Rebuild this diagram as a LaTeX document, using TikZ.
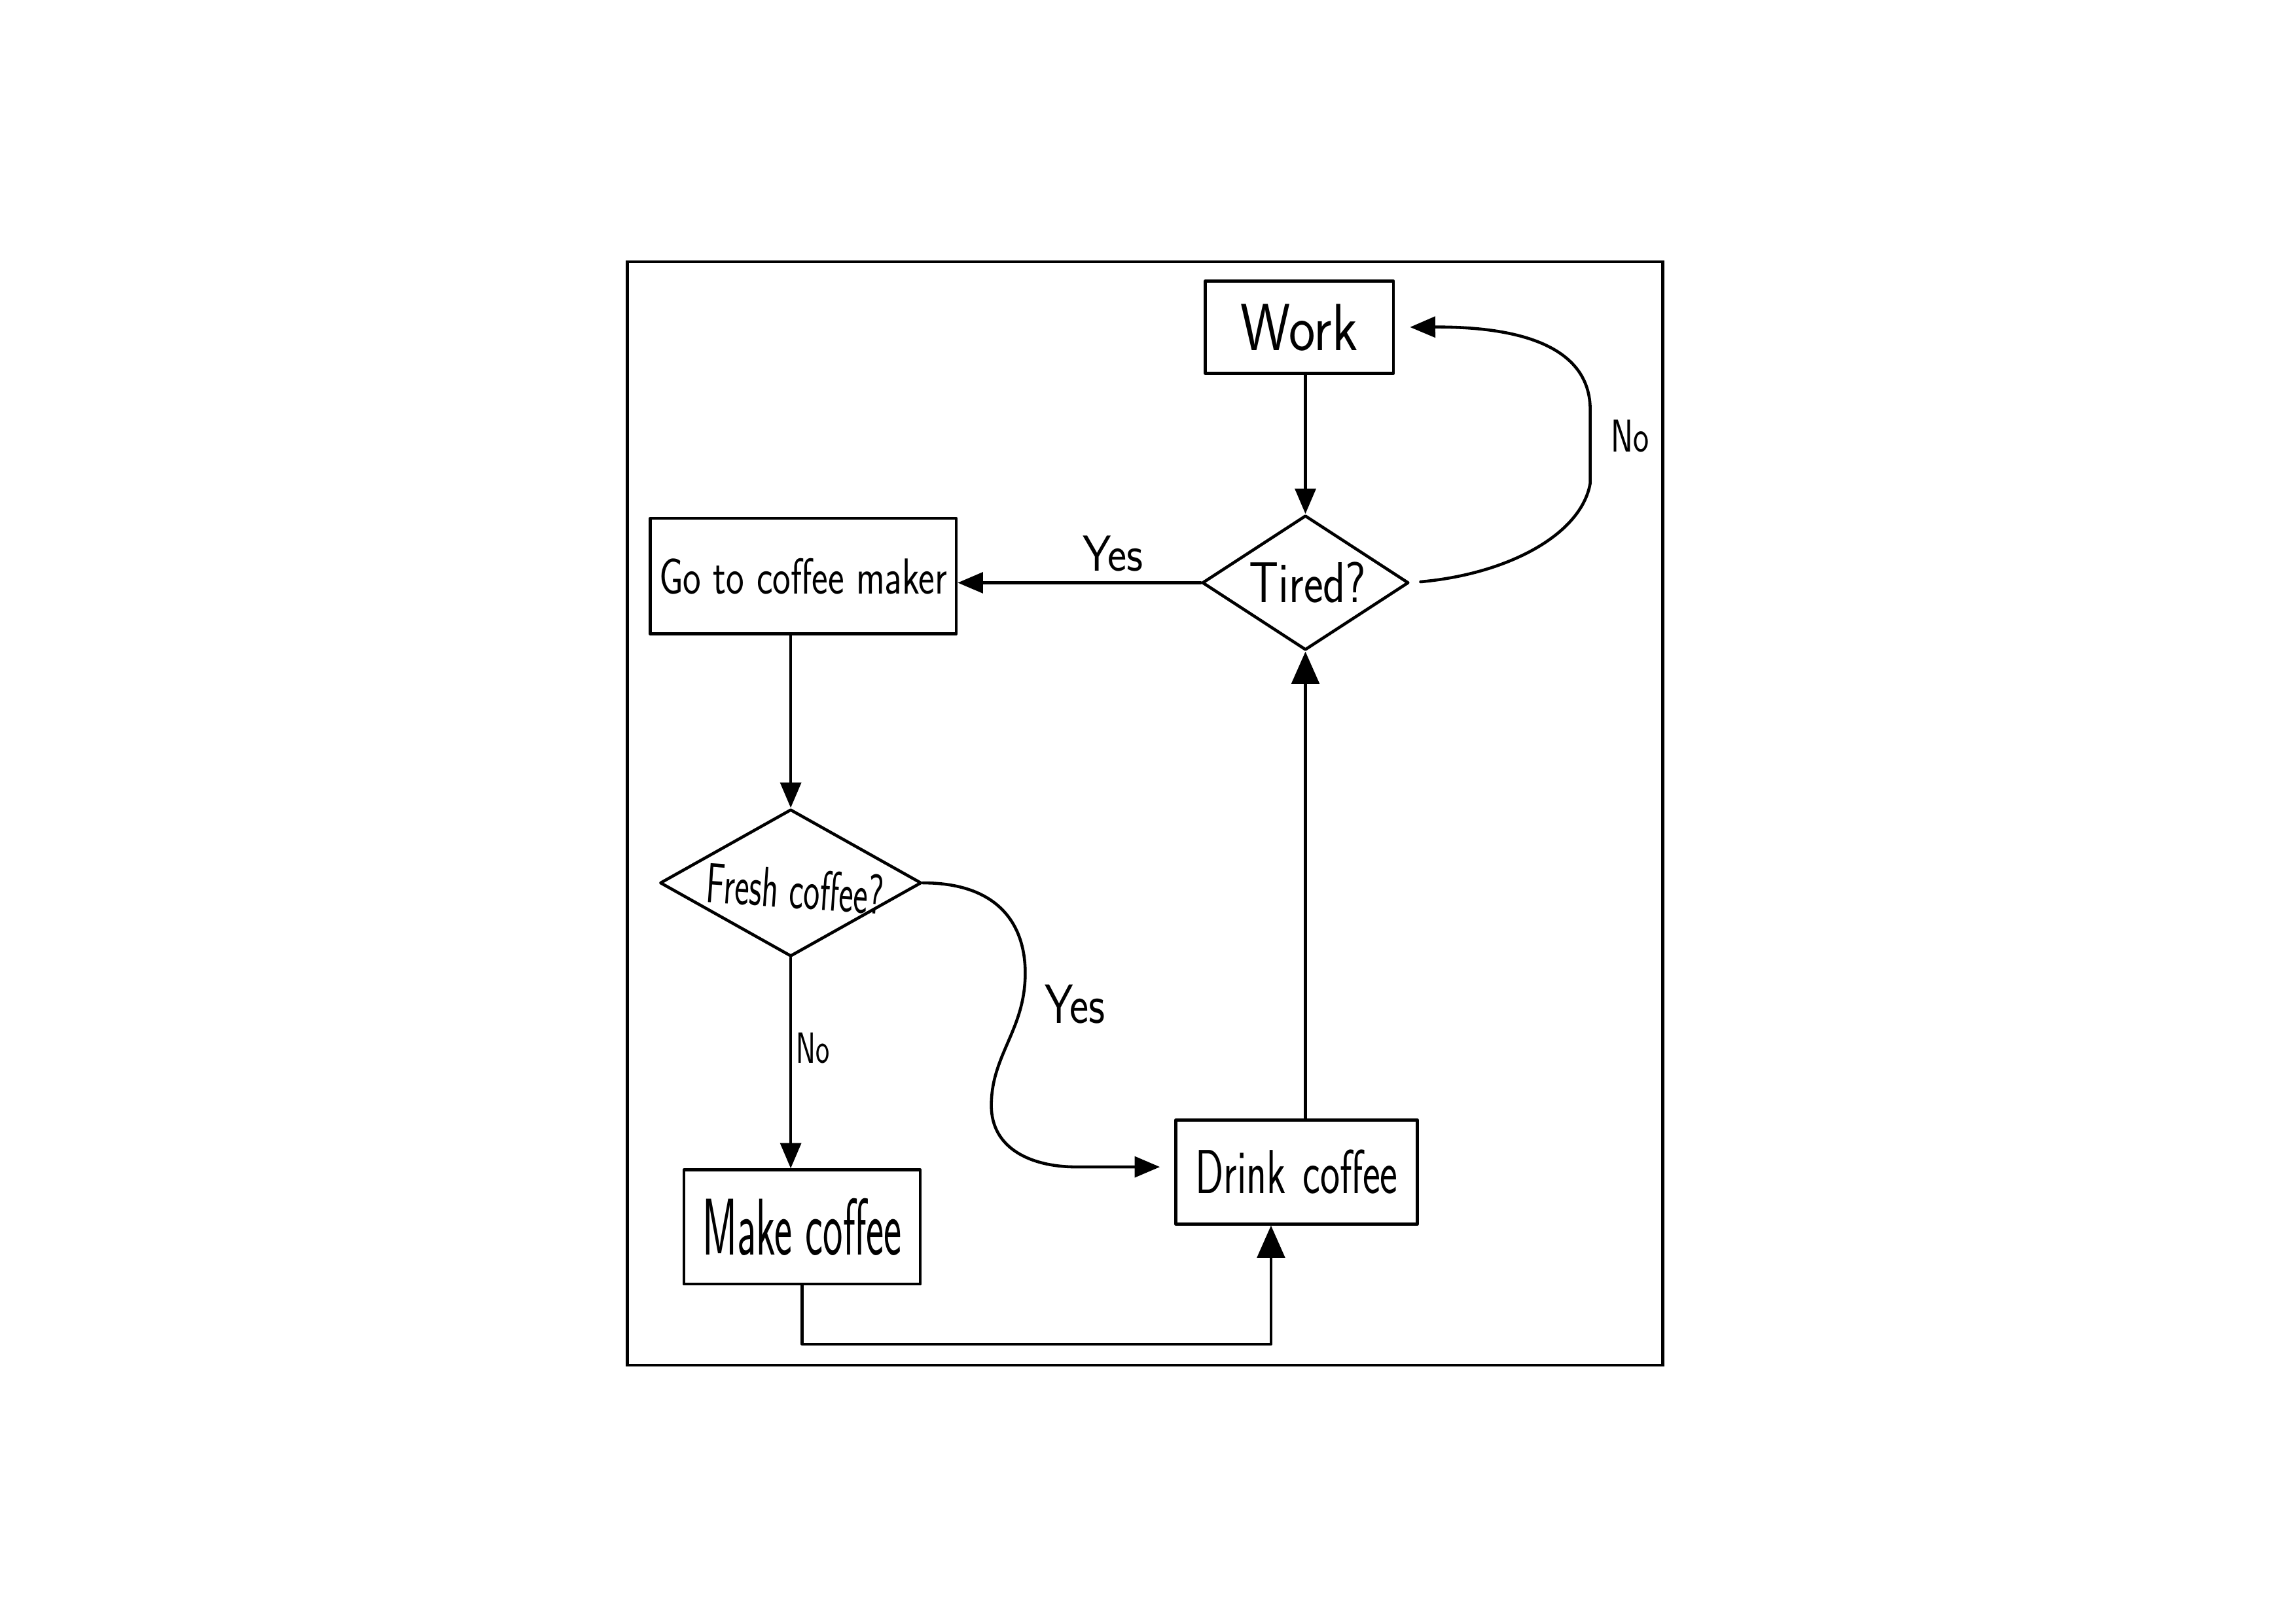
\documentclass[tikz,border=0pt]{standalone}
\usepackage{fontspec}
\usepackage{graphicx}
\usetikzlibrary{arrows.meta,shapes.geometric}

% text at a given size, squeezed to a given width (narrow hand lettering)
\newcommand\hand[3]{{\fontsize{#1}{#1}\selectfont\resizebox{#2}{\height}{#3}}}

\begin{document}
\begin{tikzpicture}[x=0.022372cm,y=-0.022372cm,
  ink/.style={line width=1.3pt, line cap=round, line join=round},
  stepbox/.style={ink, draw, rectangle, inner sep=0pt},
  decision/.style={ink, draw, diamond, inner sep=0pt},
  txt/.style={inner sep=0pt, font=\sffamily},
  flow/.style={ink, -{Triangle[length=11pt,width=9pt]}},
  bigflow/.style={ink, -{Triangle[length=14pt,width=12pt]}},
]
\useasboundingbox (0,0) rectangle (1568,1108.5);

% outer frame
\draw[line width=1.4pt] (428.6,178.8) rectangle (1135.4,932.4);

% process boxes
\node[stepbox, minimum width=2.877cm, minimum height=1.409cm] (work) at (887.3,223.5) {\sffamily\hand{29}{1.79cm}{Work}};
\node[stepbox, minimum width=4.676cm, minimum height=1.767cm] (go) at (548.5,393.5) {\sffamily\hand{22}{4.40cm}{Go to coffee maker}};
\node[stepbox, minimum width=3.613cm, minimum height=1.745cm] (make) at (547.75,838) {\sffamily\hand{35}{3.04cm}{Make coffee}};
\node[stepbox, minimum width=3.691cm, minimum height=1.588cm] (drink) at (885.5,800.5) {\sffamily\hand{27}{3.09cm}{Drink\hspace{0.4em}coffee}};

% decisions
\node[decision, minimum width=3.154cm, minimum height=2.058cm] (tired) at (891.5,398) {};
\node[txt] (tiredtxt) at (893,398) {\hand{25}{1.79cm}{Tired?}};
\node[decision, minimum width=3.993cm, minimum height=2.248cm] (fresh) at (540,603) {};
\node[txt] (freshtxt) at (543,607) {\rotatebox{-4}{\hand{24.5}{2.71cm}{Fresh coffee?}}};

% straight connectors
\draw[flow] (tired.north |- work.south) -- (tired.north);
\draw[flow] (tired.west) -- (tired.west -| go.east);
\draw[flow] (fresh.north |- go.south) -- (fresh.north);
\draw[flow] (fresh.south) -- (fresh.south |- make.north);
\draw[bigflow] (tired.south |- drink.north) -- (tired.south);
\coordinate (rail) at (868,918);
\draw[bigflow] (make.south) |- (rail) -- (rail |- drink.south);

% "No" loop back to Work
\coordinate (nolow) at (1086,330);
\coordinate (nohigh) at (1086,280);
\draw[flow, shorten <=0.16cm, shorten >=0.23cm] (tired.east)
  .. controls (1030,392) and (1080,365) .. (nolow)
  -- (nohigh)
  .. controls (1086,240) and (1045,223) .. (work.east);

% "Yes" curve to Drink coffee
\coordinate (ybend1) at (700,670);
\coordinate (ybend2) at (677,755);
\coordinate (ybend3) at (735,797);
\draw[flow, shorten >=0.22cm] (fresh.east)
  .. controls (685,603) and (702,635) .. (ybend1)
  .. controls (698,705) and (677,722) .. (ybend2)
  .. controls (677,785) and (705,797) .. (ybend3)
  -- (ybend3 -| drink.west);

% branch labels
\node[txt] (yestop) at (760,378) {\hand{22}{0.92cm}{Yes}};
\node[txt] (noright) at (1113,298) {\hand{20}{0.58cm}{No}};
\node[txt] (noleft) at (555,716) {\hand{19}{0.51cm}{No}};
\node[txt] (yesmid) at (734,686) {\hand{24}{0.92cm}{Yes}};
\end{tikzpicture}
\end{document}
